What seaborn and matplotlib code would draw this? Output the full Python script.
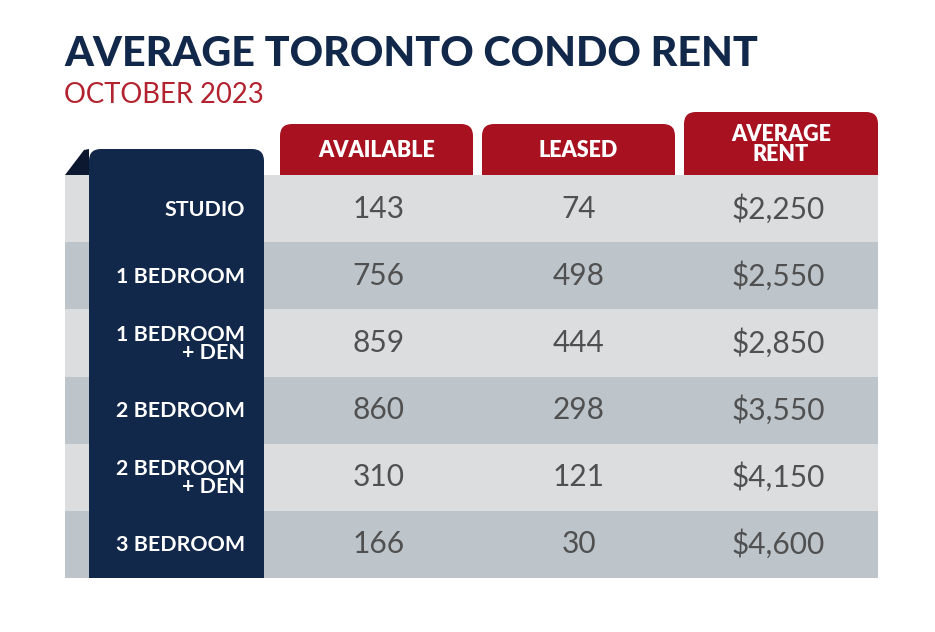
import matplotlib
matplotlib.use("Agg")
import matplotlib.pyplot as plt
import seaborn as sns
import numpy as np
import pandas as pd
from matplotlib.patches import FancyBboxPatch, Polygon, Rectangle
from matplotlib.colors import ListedColormap

# ---------------- data ----------------
title = "AVERAGE TORONTO CONDO RENT"
subtitle = "OCTOBER 2023"
unit_types = ["STUDIO", "1 BEDROOM", "1 BEDROOM\n+ DEN", "2 BEDROOM",
              "2 BEDROOM\n+ DEN", "3 BEDROOM"]
col_headers = ["AVAILABLE", "LEASED", "AVERAGE\nRENT"]
available = [143, 756, 859, 860, 310, 166]
leased = [74, 498, 444, 298, 121, 30]
avg_rent = [2250, 2550, 2850, 3550, 4150, 4600]

# ---------------- style ----------------
NAVY = "#12284B"
NAVY_DARK = "#0C1830"
RED = "#A8111F"
LIGHT = "#DCDDDF"
DARK = "#BDC4CA"
VAL = "#505050"

sns.set_theme(style="white")
plt.rcParams["font.family"] = ["Lato", "DejaVu Sans"]

W, H = 935, 632
fig = plt.figure(figsize=(W / 100, H / 100), dpi=100)
fig.patch.set_facecolor("white")
ax = fig.add_axes([0, 0, 1, 1])
ax.set_xlim(0, W)
ax.set_ylim(H, 0)
ax.axis("off")


def px_box(x0, y0, x1, y1):
    return [x0 / W, 1 - y1 / H, (x1 - x0) / W, (y1 - y0) / H]


# layout (pixels)
TX0, TX1 = 65, 878
TY0, TY1 = 175, 578
n = len(unit_types)
rh = (TY1 - TY0) / n

# title
ax.text(64, 66, title, fontsize=29.7, fontweight="black", color=NAVY,
        ha="left", va="baseline")
ax.text(64, 103, subtitle, fontsize=19.8, fontweight="normal", color="#B3232F",
        ha="left", va="baseline")

# header tabs
tabs = [(280, 473, 124), (482, 675, 124), (684, 878, 112)]
for (x0, x1, y0), lab in zip(tabs, col_headers):
    ax.add_patch(FancyBboxPatch((x0, y0), x1 - x0, 90,
                                boxstyle="round,pad=0,rounding_size=12",
                                fc=RED, ec="none", zorder=1))
    yc = (y0 + TY0) / 2 + 1
    ax.text((x0 + x1) / 2, yc, lab, color="white", fontsize=15.5,
            fontweight="heavy", ha="center", va="center", linespacing=0.95,
            zorder=5)

# stripes
for i in range(n):
    ax.add_patch(Rectangle((TX0, TY0 + i * rh), TX1 - TX0, rh,
                           fc=LIGHT if i % 2 == 0 else DARK, ec="none",
                           zorder=2))

# fold + navy column
ax.add_patch(Polygon([(65, 175), (89, 175), (89, 149), (84, 150)],
                     closed=True, fc=NAVY_DARK, ec="none", zorder=3))
ax.add_patch(FancyBboxPatch((89, 149), 264 - 89, 60,
                            boxstyle="round,pad=0,rounding_size=12",
                            fc=NAVY, ec="none", zorder=3))
ax.add_patch(Rectangle((89, 170), 264 - 89, TY1 - 170, fc=NAVY, ec="none",
                       zorder=3))

for i, lab in enumerate(unit_types):
    ax.text(245, TY0 + (i + 0.5) * rh + 1, lab, color="white", fontsize=15.4,
            fontweight="bold", ha="right", va="center", linespacing=0.88,
            zorder=5)

# value table as a seaborn heatmap
stripe = pd.DataFrame(np.array([[i % 2] * 3 for i in range(n)]),
                      index=unit_types, columns=col_headers)
annot = pd.DataFrame({
    col_headers[0]: [f"{v}" for v in available],
    col_headers[1]: [f"{v}" for v in leased],
    col_headers[2]: [f"${v:,}" for v in avg_rent],
}, index=unit_types)

hax = fig.add_axes(px_box(279, TY0, TX1, TY1))
sns.heatmap(stripe, ax=hax, cmap=ListedColormap([LIGHT, DARK]), cbar=False,
            annot=annot, fmt="", xticklabels=False, yticklabels=False,
            linewidths=0, vmin=0, vmax=1,
            annot_kws=dict(fontsize=21.5, color=VAL, fontweight="normal"))
hax.axis("off")

fig.savefig("out.png", dpi=100)
